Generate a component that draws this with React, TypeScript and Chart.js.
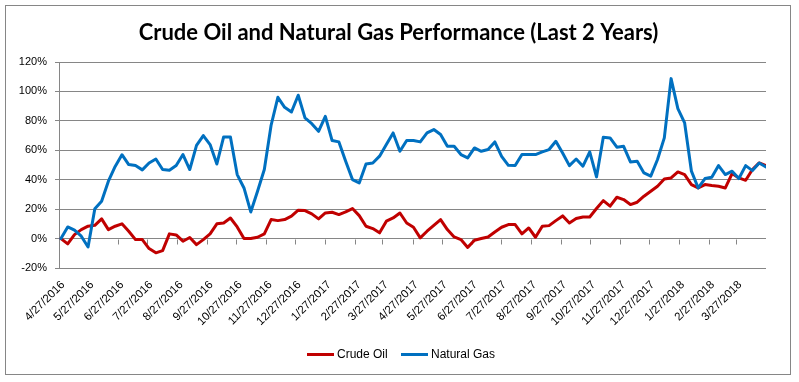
import React, { useEffect, useRef } from 'react';
import { Chart, registerables } from 'chart.js';

Chart.register(...registerables);

// ---- Data -------------------------------------------------------------
const AXIS_START = '4/27/2016';
const AXIS_END = '4/27/2018';
const FIRST_POINT = '4/29/2016'; // weekly observations from here on

const TICK_LABELS = [
  '4/27/2016', '5/27/2016', '6/27/2016', '7/27/2016', '8/27/2016', '9/27/2016',
  '10/27/2016', '11/27/2016', '12/27/2016', '1/27/2017', '2/27/2017', '3/27/2017',
  '4/27/2017', '5/27/2017', '6/27/2017', '7/27/2017', '8/27/2017', '9/27/2017',
  '10/27/2017', '11/27/2017', '12/27/2017', '1/27/2018', '2/27/2018', '3/27/2018',
];

const CRUDE_OIL = [
  0, -3.6, 2.7, 6.1, 8.4, 9, 13.4, 6.1, 8.4, 10,
  5, -0.7, -0.7, -6.8, -9.7, -8.2, 3.2, 2.5, -1.8, 0.7,
  -4.1, -0.7, 3.2, 10, 10.6, 14, 7.9, 0, 0, 0.9,
  3.2, 12.9, 12.2, 12.9, 15.2, 19.3, 19, 16.8, 13.4, 17.4,
  17.9, 16.3, 18.1, 20.4, 15.6, 8.4, 6.8, 3.9, 11.8, 14,
  17.4, 10.6, 7.7, 0.5, 5, 9, 12.9, 6.1, 1.1, -0.7,
  -6, -1.1, 0, 1.1, 4.5, 7.7, 9.5, 9.5, 3.2, 7.2,
  0.9, 8.4, 8.8, 12.2, 15.4, 10.6, 13.6, 14.7, 14.7, 20.4,
  25.8, 22, 28.1, 26.5, 23.1, 24.7, 28.8, 32.2, 35.6, 40.5,
  41.2, 45.3, 43.5, 36.7, 34.4, 36.7, 36, 35.6, 34.4, 44.2,
  41.2, 39.6, 46.9, 51.4, 49.6,
];

const NATURAL_GAS = [
  0, 7.9, 5.7, 1.6, -5.7, 20.2, 25.4, 39, 49, 57,
  50.3, 49.6, 46.7, 51.4, 54.1, 46.9, 46.4, 49.6, 57.1, 46.9,
  63.4, 70, 63.9, 50.7, 69.1, 69.1, 43.5, 34.4, 18.1, 32.2,
  46.9, 77, 96, 89.2, 86, 97.4, 82, 78.1, 72.9, 83.1,
  66.6, 65.7, 52.5, 40.1, 37.8, 50.7, 51.4, 56, 63.9, 71.8,
  59.3, 66.6, 66.6, 65.7, 71.8, 74.1, 70.7, 62.7, 62.7, 57.1,
  54.8, 61.6, 59.3, 60.5, 65.7, 55.9, 49.8, 49.6, 57.1, 57.1,
  57.1, 58.9, 60.5, 66.1, 58.2, 49.6, 54.1, 49.2, 58.9, 41.9,
  68.9, 68.4, 62.1, 62.7, 52.1, 52.5, 44.6, 42.4, 53.7, 68.4,
  108.7, 88.3, 78.6, 45.8, 34.4, 40.8, 41.7, 49.6, 43.5, 45.8,
  40.8, 49.6, 46.2, 51.4, 48.7,
];

const Y_MIN = -20;
const Y_MAX = 120;
const Y_STEP = 20;

// ---- Helpers ----------------------------------------------------------
const DAY_MS = 86400000;
const parseUS = (s: string) => {
  const [m, d, y] = s.split('/').map(Number);
  return Date.UTC(y, m - 1, d);
};
const t0 = parseUS(AXIS_START);
const dayOf = (s: string) => Math.round((parseUS(s) - t0) / DAY_MS);
const FIRST_DAY = dayOf(FIRST_POINT);
const END_DAY = dayOf(AXIS_END);
const TICK_DAYS = TICK_LABELS.map(dayOf);
const toPoints = (arr: number[]) => arr.map((v, i) => ({ x: FIRST_DAY + 7 * i, y: v }));

const RED = '#C00000';
const BLUE = '#0070C0';
const GRID = '#868686';
const FONT = 'Liberation Sans';

const decorPlugin = {
  id: 'decor',
  beforeDatasetsDraw(chart: any) {
    const { ctx, scales } = chart;
    const xs = scales.x;
    const ys = scales.y;
    const y0 = Math.round(ys.getPixelForValue(0)) + 0.5;
    ctx.save();
    ctx.strokeStyle = GRID;
    ctx.lineWidth = 1;
    ctx.beginPath();
    xs.ticks.forEach((t: any) => {
      const x = Math.round(xs.getPixelForValue(t.value)) + 0.5;
      ctx.moveTo(x, y0);
      ctx.lineTo(x, y0 + 5);
    });
    ctx.stroke();
    ctx.restore();
  },
  afterDraw(chart: any) {
    const { ctx } = chart;
    ctx.save();
    // outer border
    ctx.strokeStyle = GRID;
    ctx.lineWidth = 1;
    ctx.strokeRect(5.5, 5.5, 785, 369);

    // title
    const title = 'Crude Oil and Natural Gas Performance (Last 2 Years)';
    let size = 24;
    ctx.font = `bold ${size}px Lato`;
    while (ctx.measureText(title).width > 527 && size > 10) {
      size -= 0.5;
      ctx.font = `bold ${size}px Lato`;
    }
    ctx.fillStyle = '#000';
    ctx.textAlign = 'center';
    ctx.textBaseline = 'alphabetic';
    ctx.fillText(title, 398.5, 40);

    // legend
    ctx.font = `12px ${FONT}`;
    ctx.textAlign = 'left';
    ctx.textBaseline = 'middle';
    const ly = 354.5;
    const items = [
      { label: 'Crude Oil', color: RED, x: 307 },
      { label: 'Natural Gas', color: BLUE, x: 401 },
    ];
    items.forEach((it) => {
      ctx.strokeStyle = it.color;
      ctx.lineWidth = 3;
      ctx.beginPath();
      ctx.moveTo(it.x, ly);
      ctx.lineTo(it.x + 27, ly);
      ctx.stroke();
      ctx.fillStyle = '#000';
      ctx.fillText(it.label, it.x + 30, ly + 0.5);
    });
    ctx.restore();
  },
};

export default function App() {
  const ref = useRef<HTMLCanvasElement | null>(null);

  useEffect(() => {
    if (!ref.current) return;
    const chart = new Chart(ref.current, {
      type: 'line',
      data: {
        datasets: [
          {
            label: 'Crude Oil',
            data: toPoints(CRUDE_OIL),
            borderColor: RED,
            backgroundColor: RED,
            borderWidth: 3,
            pointRadius: 0,
            tension: 0,
            borderJoinStyle: 'round',
            borderCapStyle: 'round',
            order: 1,
          },
          {
            label: 'Natural Gas',
            data: toPoints(NATURAL_GAS),
            borderColor: BLUE,
            backgroundColor: BLUE,
            borderWidth: 3,
            pointRadius: 0,
            tension: 0,
            borderJoinStyle: 'round',
            borderCapStyle: 'round',
            order: 0,
          },
        ],
      },
      options: {
        animation: false,
        responsive: false,
        devicePixelRatio: 1,
        layout: { padding: { top: 62, right: 33, bottom: 0, left: 0 } },
        plugins: {
          legend: { display: false },
          title: { display: false },
          tooltip: { enabled: false },
        },
        scales: {
          x: {
            type: 'linear',
            min: 0,
            max: END_DAY,
            afterBuildTicks: (s: any) => {
              s.ticks = TICK_DAYS.map((v) => ({ value: v }));
            },
            afterFit: (s: any) => {
              s.height = 114;
            },
            grid: { display: false, drawTicks: false },
            border: { display: false },
            ticks: {
              autoSkip: false,
              minRotation: 45,
              maxRotation: 45,
              padding: 10,
              labelOffset: 4,
              color: '#000',
              font: { family: FONT, size: 11.5 },
              callback: (_v: any, i: number) => TICK_LABELS[i],
            },
          },
          y: {
            min: Y_MIN,
            max: Y_MAX,
            afterFit: (s: any) => {
              s.width = 59;
            },
            grid: { color: GRID, lineWidth: 1, tickLength: 4 },
            border: { color: GRID },
            ticks: {
              stepSize: Y_STEP,
              padding: 8,
              color: '#000',
              font: { family: FONT, size: 11 },
              callback: (v: any) => `${v}%`,
            },
          },
        },
      },
      plugins: [decorPlugin],
    } as any);
    return () => chart.destroy();
  }, []);

  return (
    <div style={{ position: 'absolute', left: 0, top: 0, width: 799, height: 382, background: '#fff' }}>
      <canvas ref={ref} width={799} height={382} style={{ display: 'block' }} />
    </div>
  );
}
